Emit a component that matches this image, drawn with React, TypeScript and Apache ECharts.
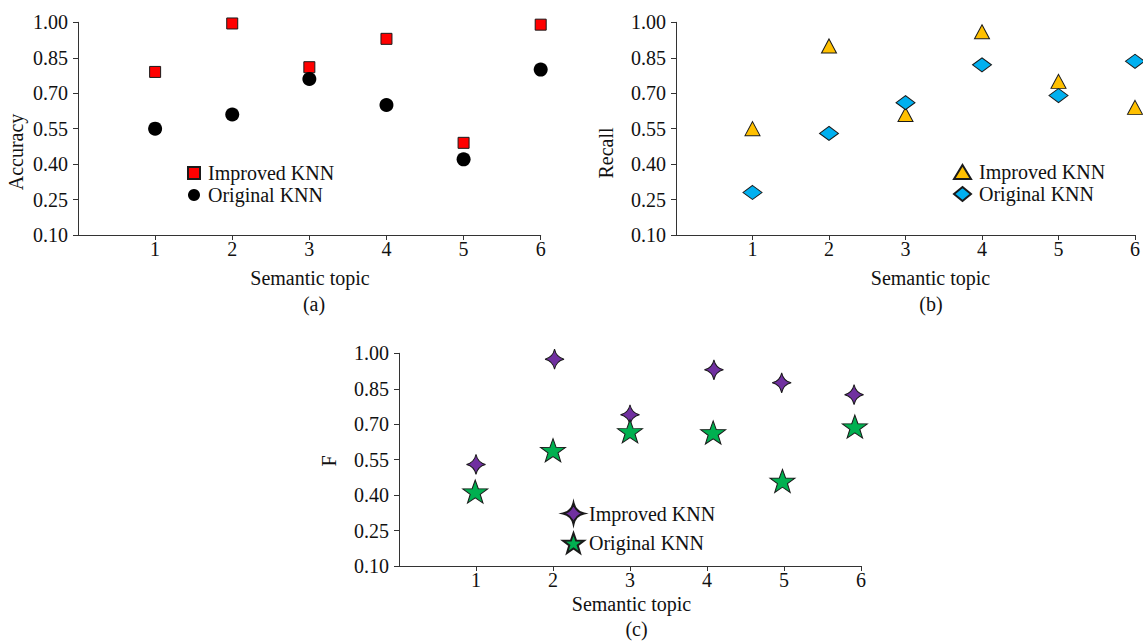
import React, { useEffect, useRef } from "react";
import * as echarts from "echarts";

// ---- data ----
const topics = [1, 2, 3, 4, 5, 6];
const yTicks = [0.1, 0.25, 0.4, 0.55, 0.7, 0.85, 1.0];

const accImproved = [0.79, 0.995, 0.81, 0.93, 0.49, 0.99];
const accOriginal = [0.55, 0.61, 0.76, 0.65, 0.42, 0.8];

const recImproved = [0.55, 0.9, 0.61, 0.96, 0.75, 0.64];
const recOriginal = [0.28, 0.53, 0.66, 0.82, 0.69, 0.835];

const fTopicsImproved = [1.0, 2.02, 3.0, 4.09, 4.97, 5.91];
const fTopicsOriginal = [0.99, 2.0, 3.0, 4.08, 4.98, 5.92];
const fImproved = [0.53, 0.975, 0.74, 0.93, 0.875, 0.825];
const fOriginal = [0.415, 0.59, 0.67, 0.665, 0.46, 0.69];

const seriesLabels: Record<string, string> = {
  aImp: "Improved KNN",
  aOrig: "Original KNN",
  bImp: "Improved KNN",
  bOrig: "Original KNN",
  cImp: "Improved KNN",
  cOrig: "Original KNN",
};

const FONT = "'Liberation Serif', 'Times New Roman', 'DejaVu Serif', serif";
const TXT = "#111";
const AX = "#333";

const STAR4 =
  "path://M0,-10 Q1.8,-1.8 10,0 Q1.8,1.8 0,10 Q-1.8,1.8 -10,0 Q-1.8,-1.8 0,-10 Z";
const STAR5 =
  "path://M0,-10 L2.351,-3.236 L9.511,-3.09 L3.804,1.236 L5.878,8.09 L0,4 L-5.878,8.09 L-3.804,1.236 L-9.511,-3.09 L-2.351,-3.236 Z";

function pairs(xs: number[], ys: number[]) {
  return xs.map((x, i) => [x, ys[i]]);
}

function makeXAxis(gridIndex: number) {
  return {
    type: "value",
    gridIndex,
    min: 0,
    max: 6,
    axisLine: { show: true, onZero: false, lineStyle: { color: AX, width: 1 } },
    axisTick: { show: true, length: 5, customValues: topics, lineStyle: { color: AX } },
    axisLabel: {
      customValues: topics,
      margin: 4,
      fontFamily: FONT,
      fontSize: 20,
      color: TXT,
    },
    splitLine: { show: false },
  };
}

function makeYAxis(gridIndex: number) {
  return {
    type: "value",
    gridIndex,
    min: 0.1,
    max: 1.0,
    axisLine: { show: true, onZero: false, lineStyle: { color: AX, width: 1 } },
    axisTick: { show: true, length: 5, customValues: yTicks, lineStyle: { color: AX } },
    axisLabel: {
      customValues: yTicks,
      formatter: (v: number) => v.toFixed(2),
      margin: 10,
      fontFamily: FONT,
      fontSize: 20,
      color: TXT,
    },
    splitLine: { show: false },
  };
}

function legendText(extra: any = {}) {
  return {
    fontFamily: FONT,
    fontSize: 20,
    lineHeight: 20,
    color: TXT,
    ...extra,
  };
}

function label(text: string, x: number, y: number, rotate = false) {
  return {
    type: "text",
    x,
    y,
    rotation: rotate ? Math.PI / 2 : 0,
    style: {
      text,
      fontFamily: FONT,
      fontSize: 20,
      fill: TXT,
      textAlign: "center",
      textVerticalAlign: "middle",
    },
  };
}

export default function App() {
  const ref = useRef<HTMLDivElement>(null);

  useEffect(() => {
    if (!ref.current) return;
    const chart = echarts.init(ref.current, undefined, { renderer: "svg" });
    const border = { borderColor: "#1a1a1a", borderWidth: 1, opacity: 1 };
    chart.setOption({
      animation: false,
      backgroundColor: "#fff",
      textStyle: { fontFamily: FONT },
      grid: [
        { left: 78, top: 22.3, width: 462.7, height: 212.7 },
        { left: 676, top: 22.3, width: 463, height: 212.7 },
        { left: 399, top: 353.3, width: 462, height: 212.7 },
      ],
      xAxis: [makeXAxis(0), makeXAxis(1), makeXAxis(2)],
      yAxis: [makeYAxis(0), makeYAxis(1), makeYAxis(2)],
      legend: [
        {
          orient: "vertical",
          left: 187,
          top: 163,
          padding: 0,
          itemWidth: 12,
          itemHeight: 12,
          itemGap: 2,
          selectedMode: false,
          data: ["aImp", "aOrig"],
          formatter: (n: string) => seriesLabels[n],
          textStyle: legendText({ padding: [0, 0, 0, 3] }),
        },
        {
          orient: "vertical",
          left: 953,
          top: 162,
          padding: 0,
          itemWidth: 17,
          itemHeight: 14,
          itemGap: 2,
          selectedMode: false,
          data: ["bImp", "bOrig"],
          formatter: (n: string) => seriesLabels[n],
          textStyle: legendText({ padding: [0, 0, 0, 3] }),
        },
        {
          orient: "vertical",
          left: 562,
          top: 502,
          padding: 0,
          itemWidth: 21,
          itemHeight: 22,
          itemGap: 7,
          selectedMode: false,
          data: ["cImp", "cOrig"],
          formatter: (n: string) => seriesLabels[n],
          textStyle: legendText(),
        },
      ],
      series: [
        {
          name: "aImp",
          type: "scatter",
          xAxisIndex: 0,
          yAxisIndex: 0,
          symbol: "rect",
          symbolSize: 11,
          itemStyle: { color: "#FF0000", ...border },
          data: pairs(topics, accImproved),
        },
        {
          name: "aOrig",
          type: "scatter",
          xAxisIndex: 0,
          yAxisIndex: 0,
          symbol: "circle",
          symbolSize: 14,
          itemStyle: { color: "#000000", opacity: 1 },
          data: pairs(topics, accOriginal),
        },
        {
          name: "bImp",
          type: "scatter",
          xAxisIndex: 1,
          yAxisIndex: 1,
          symbol: "triangle",
          symbolSize: [15, 14],
          itemStyle: { color: "#FFC000", ...border },
          data: pairs(topics, recImproved),
        },
        {
          name: "bOrig",
          type: "scatter",
          xAxisIndex: 1,
          yAxisIndex: 1,
          symbol: "diamond",
          symbolSize: [19, 14],
          itemStyle: { color: "#00B0F0", ...border },
          data: pairs(topics, recOriginal),
        },
        {
          name: "cImp",
          type: "scatter",
          xAxisIndex: 2,
          yAxisIndex: 2,
          symbol: STAR4,
          symbolSize: [19, 20],
          itemStyle: { color: "#7030A0", ...border },
          data: pairs(fTopicsImproved, fImproved),
        },
        {
          name: "cOrig",
          type: "scatter",
          xAxisIndex: 2,
          yAxisIndex: 2,
          symbol: STAR5,
          symbolSize: [25, 23],
          itemStyle: { color: "#00B050", ...border },
          data: pairs(fTopicsOriginal, fOriginal),
        },
      ],
      graphic: [
        label("Accuracy", 16, 152, true),
        label("Recall", 606, 153, true),
        label("F", 329, 461, true),
        label("Semantic topic", 310, 278),
        label("Semantic topic", 930.5, 278),
        label("Semantic topic", 631.5, 604),
        label("(a)", 314, 304),
        label("(b)", 931, 304),
        label("(c)", 636.5, 629),
      ],
    });
    return () => chart.dispose();
  }, []);

  return (
    <div
      ref={ref}
      style={{ position: "fixed", left: 0, top: 0, width: 1143, height: 641, background: "#fff" }}
    />
  );
}
